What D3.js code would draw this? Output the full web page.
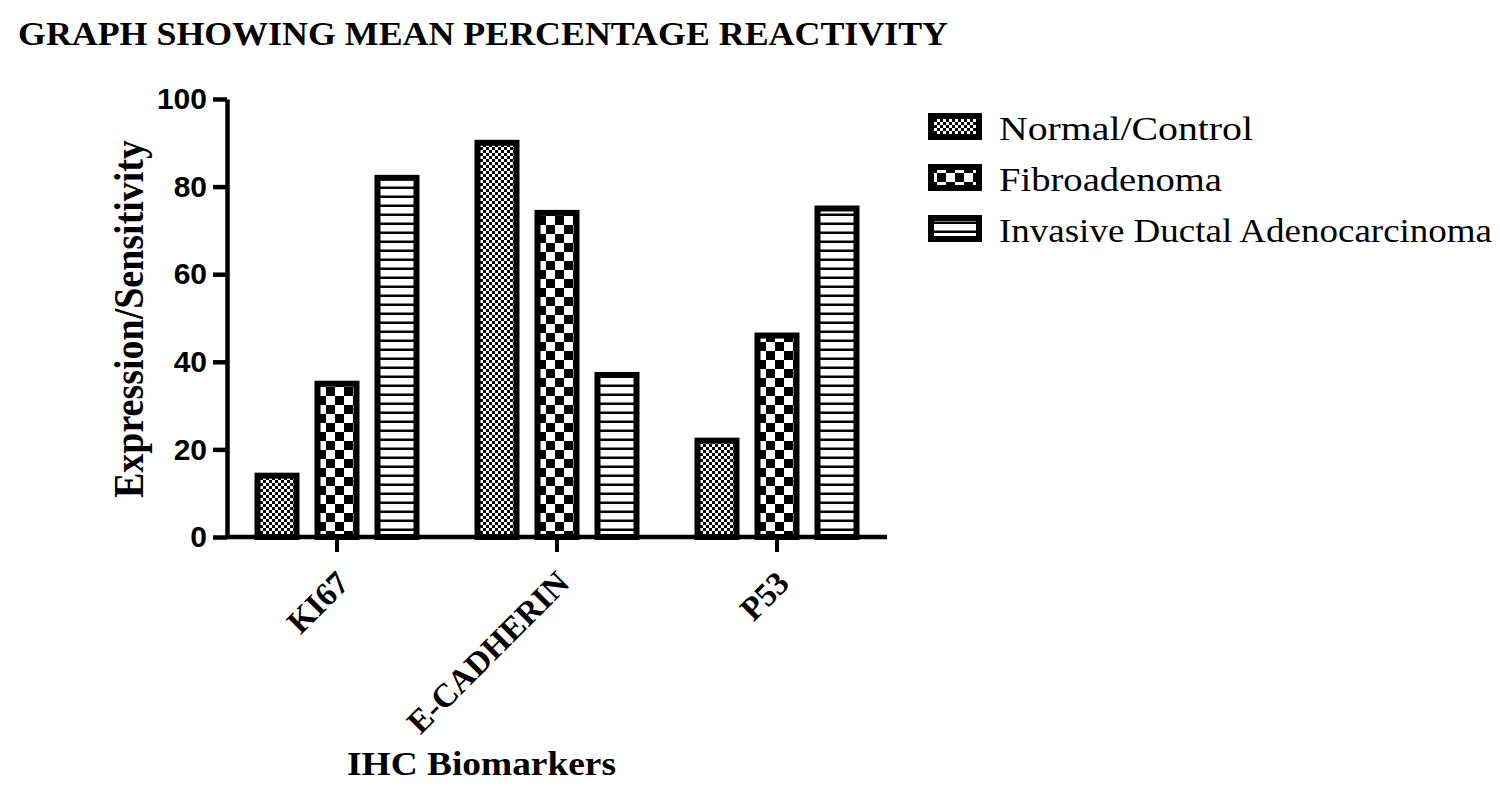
<!DOCTYPE html>
<html lang="en">
	<head>
		<meta charset="utf-8">
		<title>Mean percentage reactivity</title>
		<script type="text/javascript" src="https://d3js.org/d3.v7.min.js"></script>
		<style type="text/css">
			body { margin: 0; background: #fff; }
			svg { display: block; }
		</style>
	</head>
	<body>
		<script type="text/javascript">

			//Data
			var categories = ["KI67", "E-CADHERIN", "P53"];
			var seriesNames = ["Normal/Control", "Fibroadenoma", "Invasive Ductal Adenocarcinoma"];
			var normalValues = [14, 90, 22];
			var fibroValues = [35, 74, 46];
			var idcValues = [82, 37, 75];
			var yTicks = [0, 20, 40, 60, 80, 100];

			var seriesValues = [normalValues, fibroValues, idcValues];
			var patternIds = ["pat-fine", "pat-check", "pat-lines"];

			//Width and height
			var w = 1500;
			var h = 796;

			var svg = d3.select("body")
						.append("svg")
						.attr("width", w)
						.attr("height", h);

			//Fill patterns
			var defs = svg.append("defs");

			var fine = defs.append("pattern")
				.attr("id", "pat-fine")
				.attr("patternUnits", "userSpaceOnUse")
				.attr("width", 6).attr("height", 6);
			fine.append("rect").attr("width", 6).attr("height", 6).attr("fill", "#fff");
			fine.append("rect").attr("width", 3).attr("height", 3).attr("fill", "#000");
			fine.append("rect").attr("x", 3).attr("y", 3).attr("width", 3).attr("height", 3).attr("fill", "#000");

			var check = defs.append("pattern")
				.attr("id", "pat-check")
				.attr("patternUnits", "userSpaceOnUse")
				.attr("width", 18).attr("height", 18);
			check.append("rect").attr("width", 18).attr("height", 18).attr("fill", "#fff");
			check.append("rect").attr("width", 9).attr("height", 9).attr("fill", "#000");
			check.append("rect").attr("x", 9).attr("y", 9).attr("width", 9).attr("height", 9).attr("fill", "#000");

			var lines = defs.append("pattern")
				.attr("id", "pat-lines")
				.attr("patternUnits", "userSpaceOnUse")
				.attr("width", 9).attr("height", 9);
			lines.append("rect").attr("width", 9).attr("height", 9).attr("fill", "#fff");
			lines.append("rect").attr("y", 6.5).attr("width", 9).attr("height", 2.5).attr("fill", "#000");

			//Scales
			var x0 = d3.scaleBand()
				.domain(categories)
				.range([227, 887]);

			var x1 = d3.scaleBand()
				.domain(seriesNames)
				.range([20, x0.bandwidth() - 20])
				.paddingInner(0.25)
				.paddingOuter(0.125);

			var y = d3.scaleLinear()
				.domain([0, 100])
				.range([537, 99]);

			//Bars
			var groups = svg.selectAll("g.group")
				.data(categories)
				.enter()
				.append("g")
				.attr("class", "group")
				.attr("transform", function(d) { return "translate(" + x0(d) + ",0)"; });

			groups.selectAll("rect")
				.data(function(d, i) {
					return seriesNames.map(function(s, j) { return { s: s, j: j, v: seriesValues[j][i] }; });
				})
				.enter()
				.append("rect")
				.attr("x", function(d) { return x1(d.s) + 3; })
				.attr("width", x1.bandwidth() - 6)
				.attr("y", function(d) { return y(d.v); })
				.attr("height", function(d) { return y(0) - y(d.v); })
				.attr("fill", function(d) { return "url(#" + patternIds[d.j] + ")"; })
				.attr("stroke", "#000")
				.attr("stroke-width", 6);

			//Y axis
			var yAxis = svg.append("g")
				.attr("transform", "translate(227,0)")
				.call(d3.axisLeft(y).tickValues(yTicks).tickSize(14).tickSizeOuter(0).tickPadding(6));

			yAxis.select(".domain").attr("stroke", "#000").attr("stroke-width", 4.5);
			yAxis.selectAll(".tick line").attr("stroke", "#000").attr("stroke-width", 4.5);
			yAxis.selectAll(".tick text")
				.attr("fill", "#000")
				.style("font-family", "'Liberation Sans', Arial, sans-serif")
				.style("font-weight", "bold")
				.style("font-size", "30px");

			//X axis
			var xAxis = svg.append("g")
				.attr("transform", "translate(0," + y(0) + ")")
				.call(d3.axisBottom(x0).tickSize(15).tickSizeOuter(0));

			xAxis.select(".domain").attr("stroke", "#000").attr("stroke-width", 4.5)
				.attr("d", "M225,0H887");
			xAxis.selectAll(".tick line").attr("stroke", "#000").attr("stroke-width", 4);
			xAxis.selectAll(".tick text")
				.attr("fill", "#000")
				.attr("text-anchor", "end")
				.attr("dy", null)
				.attr("y", null)
				.attr("transform", "translate(14,48) rotate(-45)")
				.style("font-family", "'Liberation Serif', 'Times New Roman', serif")
				.style("font-weight", "bold")
				.style("font-size", "33px");

			//Title
			svg.append("text")
				.attr("x", 18)
				.attr("y", 45)
				.attr("textLength", 930)
				.attr("lengthAdjust", "spacingAndGlyphs")
				.style("font-family", "'Liberation Serif', 'Times New Roman', serif")
				.style("font-weight", "bold")
				.style("font-size", "33px")
				.text("GRAPH SHOWING MEAN PERCENTAGE REACTIVITY");

			//Axis titles
			svg.append("text")
				.attr("transform", "translate(143,319) rotate(-90)")
				.attr("text-anchor", "middle")
				.attr("textLength", 358)
				.attr("lengthAdjust", "spacingAndGlyphs")
				.style("font-family", "'Liberation Serif', 'Times New Roman', serif")
				.style("font-weight", "bold")
				.style("font-size", "42px")
				.text("Expression/Sensitivity");

			svg.append("text")
				.attr("x", 347)
				.attr("y", 775)
				.attr("textLength", 269)
				.attr("lengthAdjust", "spacingAndGlyphs")
				.style("font-family", "'Liberation Serif', 'Times New Roman', serif")
				.style("font-weight", "bold")
				.style("font-size", "34px")
				.text("IHC Biomarkers");

			//Legend
			var legendLengths = [254, 223, 493];
			var legend = svg.selectAll("g.legend")
				.data(seriesNames)
				.enter()
				.append("g")
				.attr("class", "legend")
				.attr("transform", function(d, i) { return "translate(928," + (113 + i * 51) + ")"; });

			legend.append("rect")
				.attr("x", 3).attr("y", 3)
				.attr("width", 48).attr("height", 21)
				.attr("fill", function(d, i) { return "url(#" + patternIds[i] + ")"; })
				.attr("stroke", "#000")
				.attr("stroke-width", 6);

			legend.append("text")
				.attr("x", 71)
				.attr("y", 27)
				.attr("textLength", function(d, i) { return legendLengths[i]; })
				.attr("lengthAdjust", "spacingAndGlyphs")
				.style("font-family", "'Liberation Serif', 'Times New Roman', serif")
				.style("font-size", "33px")
				.text(function(d) { return d; });

		</script>
	</body>
</html>
